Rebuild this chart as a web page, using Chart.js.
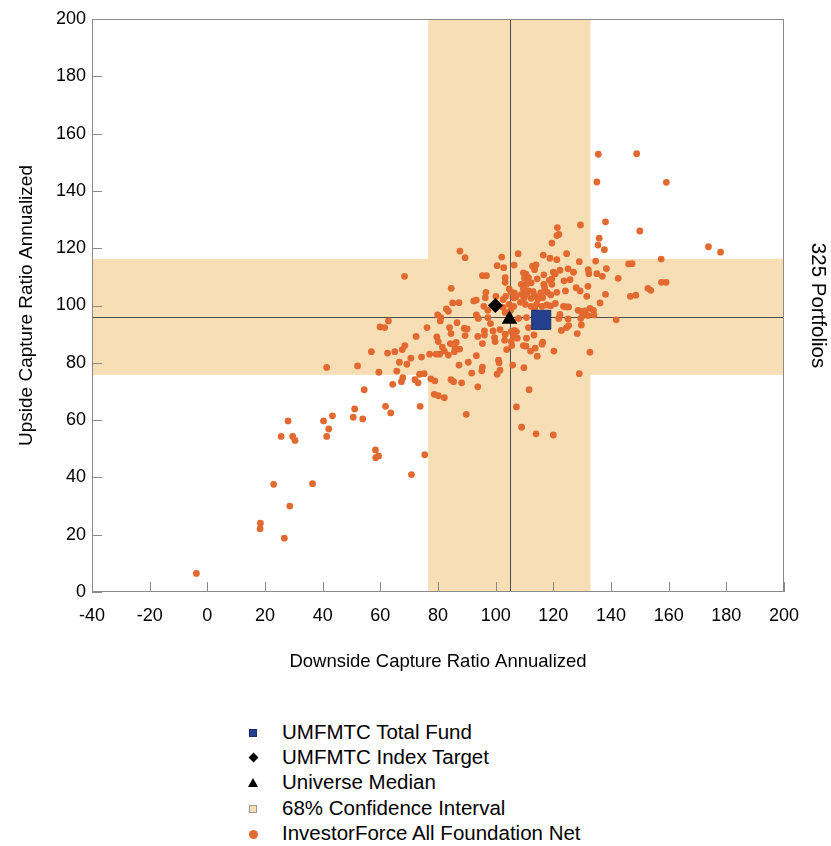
<!DOCTYPE html>
<html>
<head>
<meta charset="utf-8">
<script src="https://cdn.jsdelivr.net/npm/chart.js@4/dist/chart.umd.min.js"></script>
<style>
  body { margin: 0; background: #fff; font-family: Arial, "Liberation Sans", sans-serif; }
  #wrap { position: relative; width: 831px; height: 846px; }
  #chart { position: absolute; left: 0; top: 0; }
  .leg { position: absolute; left: 282px; font-size: 20.5px; line-height: 22px; color: #000; white-space: nowrap; }
  .mk { position: absolute; box-sizing: border-box; }
</style>
</head>
<body>
<div id="wrap">
  <canvas id="chart" width="831" height="677"></canvas>
  <div id="legend"></div>
</div>
<script>
// axis ticks
const xTicks = [-40, -20, 0, 20, 40, 60, 80, 100, 120, 140, 160, 180, 200];
const yTicks = [0, 20, 40, 60, 80, 100, 120, 140, 160, 180, 200];

// 68% confidence interval bands and median crosshair
const bandDownside = [76.6, 132.9];
const bandUpside = [75.8, 116.3];
const crossLines = [104.8, 95.9];

// highlighted portfolios [downside, upside]
const totalFund = [115.8, 95.0];
const indexTarget = [99.9, 100.0];
const universeMedian = [104.8, 95.2];

// universe portfolios
const downside = [
  -3.8, 18.4, 18.3, 26.7, 23.0, 28.6, 36.5, 25.6, 28.0, 29.6, 30.4, 40.3, 42.1, 41.4, 43.4, 50.6, 51.1, 41.4, 52.1, 58.3,
  58.4, 59.4, 70.8, 75.4,
  87.6, 89.4, 68.4, 84.6, 85.1, 87.3, 92.4, 93.3, 82.9, 83.6, 79.9, 81.0, 80.8, 93.3, 94.0, 62.8, 59.9, 61.5, 76.2, 84.0,
  86.6, 89.1, 90.1,
  72.4, 79.6, 80.1, 84.5, 89.4, 93.8, 84.3, 86.3, 81.5, 82.2, 80.6, 79.4, 77.1, 83.6, 85.9, 87.5, 85.7, 93.3, 68.5, 67.6,
  65.0, 62.5, 56.9, 74.3, 70.6, 66.6, 69.2, 87.3, 90.5, 59.5, 65.7, 73.6, 75.2, 91.7, 67.8, 67.3, 72.0, 73.1, 77.5, 78.9,
  84.5, 85.4, 88.2, 93.8, 64.3, 54.4, 78.7, 80.1, 82.2, 61.8, 63.6, 73.8, 89.8, 53.9,
  121.4, 129.4, 121.9, 121.2, 135.9, 135.5, 119.5, 107.8, 102.1, 116.5, 118.8, 121.2, 124.6, 129.0, 134.7, 100.5, 102.8,
  106.4, 112.8, 114.0, 113.5, 122.3, 125.1, 120.0, 120.7, 127.0, 132.1, 132.3, 135.1, 96.8, 95.4, 103.3, 103.3, 109.6,
  110.5, 110.0, 111.4, 114.4, 116.7, 119.5, 118.6, 123.7, 125.8, 108.9, 110.7, 112.3, 116.7, 119.5, 117.0, 127.9, 129.3,
  132.0, 104.7, 105.4, 106.5, 109.6, 111.4, 108.9, 110.7, 113.0, 113.5, 115.6, 117.9, 119.1, 121.2, 124.2, 96.6, 96.4,
  103.5, 106.3, 107.0, 109.8, 112.3, 114.7, 116.3, 120.7, 123.5, 125.3, 131.6, 136.2, 102.6, 100.1, 104.7, 106.3, 108.6,
  110.3, 112.3, 114.2, 116.1, 117.7, 119.1, 95.9, 97.3, 102.6, 103.3, 105.2, 113.5, 122.3, 124.4, 128.6, 129.7, 131.1,
  132.7, 133.9, 134.1, 130.2, 132.0, 129.5, 125.1, 121.9, 107.9, 110.7, 97.3,
  98.2, 101.5, 96.1, 96.1, 99.1, 99.6, 99.8, 95.4, 103.3, 103.1, 105.4, 106.5, 107.2, 106.1, 107.5, 105.4, 105.6, 111.4,
  113.3, 110.7, 109.6, 110.5, 113.7, 112.1, 116.3, 116.1, 114.4, 120.2, 103.8, 122.8, 124.6, 125.3, 129.7, 128.3, 132.7,
  95.4, 95.2, 101.0, 101.2, 101.5, 100.5, 105.9, 109.8, 129.0, 111.6, 107.2,
  109.0, 114.0, 120.0, 135.6, 148.9, 135.1, 159.2, 138.1, 150.0, 137.7, 173.8, 178.0, 157.4, 146.1, 147.3, 142.5, 138.4,
  137.0, 157.5, 159.1, 152.8, 153.8, 146.7, 148.6, 138.1, 141.8
];
const upside = [
  6.5, 24.0, 22.1, 18.8, 37.6, 30.0, 37.8, 54.3, 59.7, 54.3, 52.9, 59.7, 56.9, 54.3, 61.5, 61.0, 63.9, 78.4, 78.9, 49.6,
  46.9, 47.5, 41.0, 47.9,
  119.0, 116.7, 110.2, 106.0, 100.9, 101.0, 101.6, 101.9, 98.8, 98.0, 96.7, 95.8, 94.6, 96.7, 95.5, 94.6, 92.5, 92.3, 92.3, 92.3,
  94.0, 92.0, 91.8,
  89.2, 89.0, 87.4, 90.2, 89.5, 89.2, 86.7, 87.1, 85.5, 84.1, 83.0, 83.0, 83.0, 82.7, 85.1, 84.8, 83.9, 82.5, 86.0, 84.6,
  83.9, 83.4, 83.9, 82.0, 81.6, 80.2, 79.5, 79.2, 80.2, 76.7, 77.1, 76.0, 76.2, 76.4, 74.8, 73.4, 74.1, 73.0, 74.4, 73.7,
  74.1, 73.4, 73.0, 71.6, 72.5, 70.6, 69.0, 68.5, 67.8, 64.8, 62.5, 64.8, 62.0, 60.4,
  127.2, 128.1, 124.8, 124.4, 123.5, 121.1, 121.8, 118.1, 116.9, 117.6, 116.5, 116.0, 118.1, 115.3, 115.5, 113.9, 113.2,
  114.1, 113.7, 114.2, 112.5, 112.3, 112.8, 111.6, 111.1, 111.6, 112.5, 111.1, 111.1, 110.4, 110.4, 109.7, 108.1, 111.4,
  110.9, 109.5, 109.7, 109.3, 110.7, 109.3, 108.8, 108.6, 109.0, 107.4, 107.4, 107.9, 107.4, 107.4, 106.2, 106.2, 105.1,
  106.7, 105.8, 104.6, 104.4, 105.8, 105.1, 103.9, 103.7, 104.8, 103.4, 104.4, 104.6, 103.7, 104.6, 105.1, 104.6, 102.7,
  103.2, 102.7, 103.0, 102.5, 102.5, 102.3, 102.7, 100.7, 99.7, 99.5, 103.2, 100.9, 102.1, 103.2, 100.4, 99.7, 101.1,
  100.4, 99.7, 100.4, 99.7, 100.2, 99.9, 99.7, 98.3, 99.3, 97.6, 98.3, 99.0, 96.9, 99.5, 98.3, 97.9, 98.1,
  99.0, 98.3, 96.7, 96.5, 96.5, 95.5, 95.3, 95.5, 95.5, 95.8, 95.8,
  93.7, 91.6, 91.1, 89.7, 91.1, 88.8, 87.4, 86.7, 90.0, 87.9, 90.9, 91.3, 90.9, 89.0, 88.6, 87.4, 86.0, 92.3,
  89.7, 88.6, 86.0, 85.8, 85.1, 84.1, 87.2, 86.5, 82.3, 84.1, 84.6, 91.3, 92.3, 93.0, 93.2, 90.2, 83.7,
  78.5, 77.2, 80.9, 80.0, 77.4, 76.0, 79.2, 78.3, 76.2, 70.6, 64.6,
  57.5, 55.2, 54.8, 152.8, 153.0, 143.1, 143.0, 129.2, 126.0, 119.5, 120.5, 118.6, 116.2, 114.5, 114.6, 109.5, 112.9,
  110.2, 108.1, 108.1, 106.0, 105.3, 103.2, 103.6, 103.9, 95.0
];

const BAND = "#f8deb5";
const DOT = "#e2692f";
const FAMILY = "Arial, 'Liberation Sans', sans-serif";
const FONT = { family: FAMILY, size: 18 };

// bands, crosshair, inner tick marks and the frame
const plotDecor = {
  id: "plotDecor",
  beforeDatasetsDraw(chart) {
    const { ctx, chartArea: a, scales: { x, y } } = chart;
    ctx.save();
    ctx.fillStyle = BAND;
    const bx1 = x.getPixelForValue(bandDownside[0]), bx2 = x.getPixelForValue(bandDownside[1]);
    ctx.fillRect(bx1, a.top, bx2 - bx1, a.bottom - a.top);
    const by1 = y.getPixelForValue(bandUpside[1]), by2 = y.getPixelForValue(bandUpside[0]);
    ctx.fillRect(a.left, by1, a.right - a.left, by2 - by1);

    ctx.strokeStyle = "#4d4d4d";
    ctx.lineWidth = 1;
    const cx = Math.round(x.getPixelForValue(crossLines[0])) + 0.5;
    const cy = Math.round(y.getPixelForValue(crossLines[1])) + 0.5;
    ctx.beginPath();
    ctx.moveTo(cx, a.top); ctx.lineTo(cx, a.bottom);
    ctx.moveTo(a.left, cy); ctx.lineTo(a.right, cy);
    ctx.stroke();
    ctx.restore();
  },
  afterDatasetsDraw(chart) {
    const { ctx, chartArea: a, scales: { x, y } } = chart;
    ctx.save();
    ctx.strokeStyle = "#8a8a8a";
    ctx.lineWidth = 1;
    ctx.beginPath();
    xTicks.forEach(v => {
      const px = Math.round(x.getPixelForValue(v)) + 0.5;
      ctx.moveTo(px, a.bottom); ctx.lineTo(px, a.bottom - 10);
    });
    yTicks.forEach(v => {
      const py = Math.round(y.getPixelForValue(v)) + 0.5;
      ctx.moveTo(a.left, py); ctx.lineTo(a.left + 10, py);
    });
    ctx.stroke();
    ctx.strokeRect(Math.round(a.left) + 0.5, Math.round(a.top) + 0.5,
      Math.round(a.right - a.left) - 1, Math.round(a.bottom - a.top) - 1);
    ctx.restore();
  }
};

const pt = p => [{ x: p[0], y: p[1] }];

new Chart(document.getElementById("chart"), {
  type: "scatter",
  data: {
    datasets: [
      { label: "UMFMTC Total Fund", data: pt(totalFund), pointStyle: "rect", pointRadius: 13.5,
        backgroundColor: "#25408f", borderColor: "#1b2d66", borderWidth: 1 },
      { label: "UMFMTC Index Target", data: pt(indexTarget), pointStyle: "rectRot", pointRadius: 7.5,
        backgroundColor: "#000", borderColor: "#000", borderWidth: 0 },
      { label: "Universe Median", data: pt(universeMedian), pointStyle: "triangle", pointRadius: 9,
        backgroundColor: "#000", borderColor: "#000", borderWidth: 0 },
      { label: "InvestorForce All Foundation Net", data: downside.map((d, i) => ({ x: d, y: upside[i] })),
        pointStyle: "circle", pointRadius: 3.4, backgroundColor: DOT, borderWidth: 0 }
    ]
  },
  options: {
    responsive: false,
    animation: false,
    devicePixelRatio: 1,
    layout: { padding: { top: 19, left: 0, right: 0, bottom: 0 } },
    plugins: { legend: { display: false }, tooltip: { enabled: false } },
    scales: {
      x: {
        type: "linear", min: -40, max: 200,
        afterBuildTicks: s => { s.ticks = xTicks.map(v => ({ value: v })); },
        ticks: { font: FONT, color: "#000", padding: 13 },
        grid: { display: false, drawTicks: false },
        border: { display: false },
        title: { display: true, text: "Downside Capture Ratio Annualized", font: { family: FAMILY, size: 18.5 },
          color: "#000", padding: { top: 0, bottom: 4 } },
        afterFit: s => { s.height = 85; }
      },
      y: {
        type: "linear", min: 0, max: 200,
        afterBuildTicks: s => { s.ticks = yTicks.map(v => ({ value: v })); },
        ticks: { font: FONT, color: "#000", padding: 6 },
        grid: { display: false, drawTicks: false },
        border: { display: false },
        title: { display: true, text: "Upside Capture Ratio Annualized", font: { family: FAMILY, size: 19 },
          color: "#000", padding: { top: 15, bottom: 0 } },
        afterFit: s => { s.width = 92; }
      },
      y2: {
        type: "linear", position: "right", min: 0, max: 200,
        ticks: { display: false },
        grid: { display: false, drawTicks: false },
        border: { display: false },
        title: { display: true, text: "325 Portfolios", font: { family: FAMILY, size: 20.5 }, color: "#000",
          padding: { top: 1, bottom: 0 } },
        afterFit: s => { s.width = 47; }
      }
    }
  },
  plugins: [plotDecor]
});

// legend below the chart
const legendItems = [
  { text: "UMFMTC Total Fund", css: "width:8px;height:8px;margin:-4px 0 0 -4px;background:#25408f;border:1px solid #1b2d66;" },
  { text: "UMFMTC Index Target", css: "width:7px;height:7px;margin:-3.5px 0 0 -3.5px;background:#000;transform:rotate(45deg);" },
  { text: "Universe Median", css: "width:0;height:0;margin:-5px 0 0 -5px;border-left:5px solid transparent;border-right:5px solid transparent;border-bottom:9px solid #000;" },
  { text: "68% Confidence Interval", css: "width:8px;height:8px;margin:-4px 0 0 -4px;background:" + BAND + ";border:1px solid #9a9a9a;" },
  { text: "InvestorForce All Foundation Net", css: "width:9px;height:9px;margin:-4.5px 0 0 -4.5px;border-radius:50%;background:" + DOT + ";" }
];
const leg = document.getElementById("legend");
legendItems.forEach((it, i) => {
  const c = 731.5 + i * 25.4;
  const mk = document.createElement("div");
  mk.className = "mk";
  mk.style.cssText = "left:253px;top:" + (c + 1) + "px;" + it.css;
  leg.appendChild(mk);
  const t = document.createElement("div");
  t.className = "leg";
  t.style.top = (c - 11) + "px";
  t.textContent = it.text;
  leg.appendChild(t);
});
</script>
</body>
</html>
